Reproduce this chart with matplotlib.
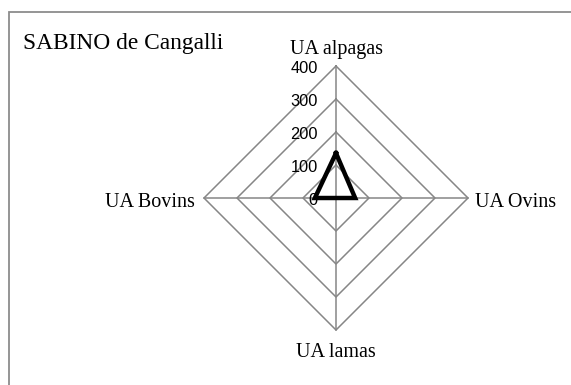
import numpy as np
import matplotlib
matplotlib.use("Agg")
import matplotlib.pyplot as plt
from matplotlib.patches import Rectangle

# radar data (clockwise from top)
categories = ["UA alpagas", "UA Ovins", "UA lamas", "UA Bovins"]
values = [136, 58, 0, 64]
ticks = [0, 100, 200, 300, 400]

angles = np.deg2rad([90, 0, -90, 180])
grid_col = "#868686"

fig = plt.figure(figsize=(5.71, 3.85), dpi=100)
# 0.33 px per unit, centre at (336, 198) px
ax = fig.add_axes([190.8 / 571, 41.8 / 385, 290.4 / 571, 290.4 / 385])
ax.set_xlim(-440, 440)
ax.set_ylim(-440, 440)
ax.axis("off")

# diamond gridlines
for t in ticks[1:]:
    gx = np.append(t * np.cos(angles), t * np.cos(angles[0]))
    gy = np.append(t * np.sin(angles), t * np.sin(angles[0]))
    ax.plot(gx, gy, color=grid_col, lw=1.1, zorder=1)

# spokes
rmax = ticks[-1]
for a in angles:
    ax.plot([0, rmax * np.cos(a)], [0, rmax * np.sin(a)], color=grid_col, lw=1.1, zorder=1)

# tick labels along the top axis
for t in ticks:
    ax.text(-55, t - 7, str(t), ha="right", va="center", fontsize=11.8,
            family="Liberation Sans", color="black")

# category labels
serif = "Liberation Serif"
ax.text(0, 436, categories[0], ha="center", va="baseline", fontsize=14.5, family=serif)
ax.text(421, -27, categories[1], ha="left", va="baseline", fontsize=14.5, family=serif)
ax.text(0, -482, categories[2], ha="center", va="baseline", fontsize=14.5, family=serif)
ax.text(-427, -27, categories[3], ha="right", va="baseline", fontsize=14.5, family=serif)

# data series
vx = np.array(values) * np.cos(angles)
vy = np.array(values) * np.sin(angles)
ax.plot(np.append(vx, vx[0]), np.append(vy, vy[0]), color="black", lw=3.2,
        solid_joinstyle="miter", zorder=3)

# title
fig.text(23 / 571, (385 - 49) / 385, "SABINO de Cangalli", ha="left", va="baseline",
         fontsize=16.8, family=serif)

# chart area border (only top and left visible)
fig.add_artist(Rectangle((9 / 571, -0.2), 1.5, (385 - 12) / 385 + 0.2,
                         transform=fig.transFigure, fill=False,
                         ec="#8c8c8c", lw=1.3))

fig.savefig("out.png", dpi=100)
